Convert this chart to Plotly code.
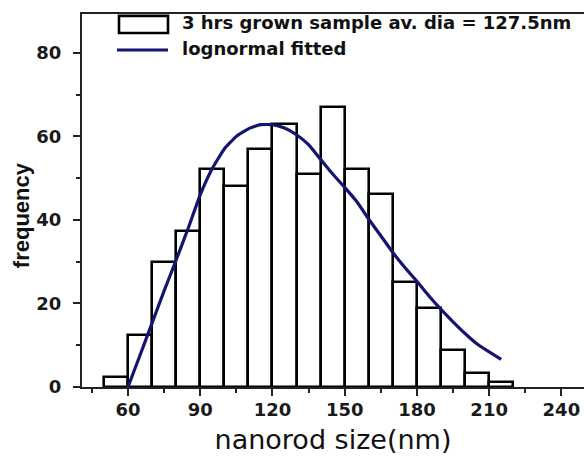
import plotly.graph_objects as go

# ---- data ----
bin_centers = [55, 65, 75, 85, 95, 105, 115, 125, 135, 145, 155, 165, 175, 185, 195, 205, 215]
bin_width = 10
frequency = [2.5, 12.5, 30, 37.4, 52.2, 48.1, 57, 63, 51, 67.1, 52.2, 46.2, 25.1, 19, 8.9, 3.3, 1.2]

fit_x = [60, 65, 70, 75, 80, 85, 90, 95, 100, 105, 110, 115, 120, 125, 130, 135, 140, 145,
         150, 155, 160, 165, 170, 175, 180, 185, 190, 195, 200, 205, 210, 215]
fit_y = [0, 7.6, 15.3, 23, 30.4, 38, 46, 52.3, 57, 60, 61.8, 62.8, 62.8, 62, 60.4, 58,
         54.5, 51, 47.8, 44.4, 40.2, 36.2, 32.2, 28.6, 25.3, 21.8, 18.6, 15.6, 12.8, 10.3, 8.4, 6.6]

x_ticks = [60, 90, 120, 150, 180, 210, 240]
y_ticks = [0, 20, 40, 60, 80]

bar_label = "3 hrs grown sample av. dia = 127.5nm"
fit_label = "lognormal fitted"
x_title = "nanorod size(nm)"
y_title = "frequency"

NAVY = "#15156e"
AXC = "#222222"

fig = go.Figure()
fig.add_trace(go.Bar(
    x=bin_centers, y=frequency, width=bin_width, name=bar_label,
    marker=dict(color="white", line=dict(color="black", width=2.6)),
    showlegend=False,
))
fig.add_trace(go.Scatter(
    x=fit_x, y=fit_y, mode="lines", name=fit_label,
    line=dict(color=NAVY, width=3.2, shape="spline", smoothing=0.4),
    showlegend=False,
))

tickfont = dict(family="DejaVu Sans", size=18, weight="bold", color="#1a1a1a")

fig.update_layout(
    width=584, height=462,
    margin=dict(l=82, r=0, t=14, b=75),
    paper_bgcolor="white", plot_bgcolor="white",
    bargap=0,
    xaxis=dict(
        range=[40.9, 249.4], tickvals=x_ticks, ticktext=[str(v) for v in x_ticks],
        ticks="outside", ticklen=7, tickwidth=2, tickcolor=AXC,
        minor=dict(tickvals=[45, 75, 105, 135, 165, 195, 225], ticks="outside",
                   ticklen=4, tickwidth=2, tickcolor=AXC),
        showline=True, linewidth=2, linecolor=AXC, mirror=True,
        showgrid=False, zeroline=False,
        tickfont=tickfont, ticklabelstandoff=-2,
        title=dict(text=x_title, font=dict(family="DejaVu Sans", size=27, color="#111111"),
                   standoff=12),
    ),
    yaxis=dict(
        range=[0, 89.3], tickvals=y_ticks, ticktext=[str(v) for v in y_ticks],
        ticks="outside", ticklen=7, tickwidth=2, tickcolor=AXC,
        minor=dict(tickvals=[10, 30, 50, 70], ticks="outside",
                   ticklen=4, tickwidth=2, tickcolor=AXC),
        showline=True, linewidth=2, linecolor=AXC, mirror=False,
        showgrid=False, zeroline=False,
        tickfont=tickfont, ticklabelstandoff=8,
    ),
)

# y-axis title placed as rotated text
fig.add_annotation(
    text=y_title, xref="paper", yref="paper", x=-0.12, y=0.46,
    xanchor="center", yanchor="middle", textangle=-90, showarrow=False,
    font=dict(family="Liberation Sans", size=22, weight="bold", color="#111111"),
)

# manual legend (large box symbol and line symbol as in the reference)
fig.add_shape(type="rect", xref="paper", yref="paper",
              x0=0.0737, x1=0.1713, y0=0.949, y1=0.995,
              line=dict(color="black", width=2.6), fillcolor="white")
fig.add_shape(type="line", xref="paper", yref="paper",
              x0=0.0697, x1=0.1713, y0=0.9035, y1=0.9035,
              line=dict(color=NAVY, width=3.2))
legfont = dict(family="DejaVu Sans", size=18, weight="bold", color="#111111")
fig.add_annotation(text=bar_label, xref="paper", yref="paper", x=0.1952, y=0.9759,
                   xanchor="left", yanchor="middle", showarrow=False, font=legfont)
fig.add_annotation(text=fit_label, xref="paper", yref="paper", x=0.1952, y=0.9088,
                   xanchor="left", yanchor="middle", showarrow=False, font=legfont)

fig.write_html("out.html")
